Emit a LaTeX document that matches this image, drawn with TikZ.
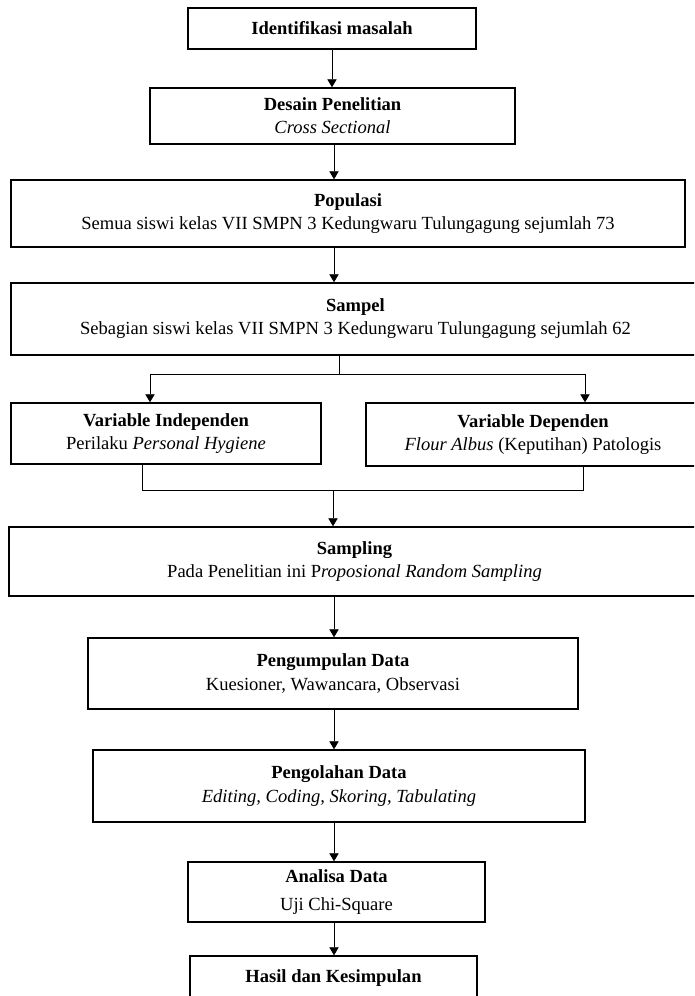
\documentclass[tikz,border=0pt]{standalone}
\usepackage{fontspec}
\setmainfont{Liberation Serif}
\usetikzlibrary{arrows.meta}

\begin{document}
\begin{tikzpicture}[x=0.75pt, y=-0.75pt,
	box/.style={draw, line width=1.1pt, align=center, inner sep=0pt, font=\fontsize{13.9}{17.3}\selectfont},
	size/.style 2 args={minimum width=#1*0.75pt, minimum height=#2*0.75pt},
	conn/.style={line width=0.6pt},
	arr/.style={line width=0.6pt, -{Triangle[length=6pt, width=7pt]}}]
		\useasboundingbox (0,0) rectangle (694,996);
		\clip (0,0) rectangle (694,996);
		% boxes
		\node [box, size={288}{41}] (idm) at (332,28.5) {\textbf{Identifikasi masalah}};
		\node [box, size={365}{56}] (desain) at (332.5,116) {\textbf{Desain Penelitian}\\ \textit{Cross Sectional}};
		\node [box, size={674}{67}] (pop) at (348,213.5) {\textbf{Populasi}\\ Semua siswi kelas VII SMPN 3 Kedungwaru Tulungagung sejumlah 73};
		\node [box, size={689}{72}] (sampel) at (355.5,319) {\textbf{Sampel}\\ Sebagian siswi kelas VII SMPN 3 Kedungwaru Tulungagung sejumlah 62};
		\node [box, size={310}{61}] (vi) at (166,433.5) {\textbf{Variable Independen}\\ Perilaku \textit{Personal Hygiene}};
		\node [box, size={334}{63}] (vd) at (533,434.5) {\textbf{Variable Dependen}\\ \textit{Flour Albus} (Keputihan) Patologis};
		\node [box, size={691}{69}] (samp) at (354.5,561.5) {\textbf{Sampling}\\ Pada Penelitian ini P\textit{roposional Random Sampling}};
		\node [box, size={490}{71}] (kumpul) at (333,673.5) {\textbf{Pengumpulan Data}\\ Kuesioner, Wawancara, Observasi};
		\node [box, size={492}{72}] (olah) at (339,786) {\textbf{Pengolahan Data}\\ \textit{Editing, Coding, Skoring, Tabulating}};
		\node [box, size={297}{60}] (analisa) at (336.5,892) {\textbf{Analisa Data}\\[3pt] Uji Chi-Square};
		\node [box, size={287}{44}] (hasil) at (333.5,978) {\textbf{Hasil dan Kesimpulan}};
		% connectors
		\coordinate (spine) at (334,0);
		\draw [arr] (idm.south) -- (idm.south |- desain.north);
		\draw [arr] (spine |- desain.south) -- (spine |- pop.north);
		\draw [arr] (spine |- pop.south) -- (spine |- sampel.north);
		\coordinate (split) at (339,374);
		\coordinate (jl) at (150,374);
		\coordinate (jr) at (585,374);
		\draw [conn] (split |- sampel.south) -- (split);
		\draw [conn] (jl) -- (jr);
		\draw [arr] (jl) -- (jl |- vi.north);
		\draw [arr] (jr) -- (jr |- vd.north);
		\coordinate (ml) at (142,490);
		\coordinate (mr) at (583,490);
		\coordinate (merge) at (333,490);
		\draw [conn] (ml |- vi.south) -- (ml) -- (mr) -- (mr |- vd.south);
		\draw [arr] (merge) -- (merge |- samp.north);
		\draw [arr] (spine |- samp.south) -- (spine |- kumpul.north);
		\draw [arr] (spine |- kumpul.south) -- (spine |- olah.north);
		\draw [arr] (spine |- olah.south) -- (spine |- analisa.north);
		\draw [arr] (spine |- analisa.south) -- (spine |- hasil.north);
	\end{tikzpicture}
\end{document}
